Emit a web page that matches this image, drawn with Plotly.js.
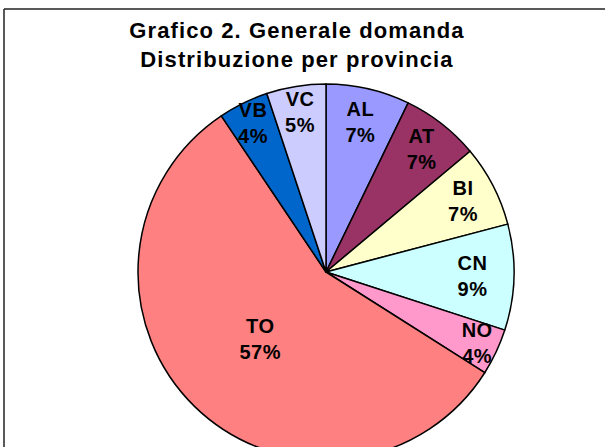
<!DOCTYPE html>
<html>
<head>
<meta charset="utf-8">
<script src="https://cdn.plot.ly/plotly-3.0.1.min.js"></script>
<style>
html, body { margin: 0; padding: 0; overflow: hidden; background: #fff; }
#chart { width: 605px; height: 480px; }
#chart .gtitle { letter-spacing: 1.1px; }
#chart .slicetext { letter-spacing: 0.5px; }
</style>
</head>
<body>
<div id="chart"></div>
<script>
const provinces = ['AL', 'AT', 'BI', 'CN', 'NO', 'TO', 'VB', 'VC'];
const shares = [7.2, 6.7, 7.0, 9.1, 4.0, 56.6, 4.3, 5.1];
const sliceColors = ['#9999FF', '#993366', '#FFFFCC', '#CCFFFF', '#FF99CC', '#FF8080', '#0066CC', '#CCCCFF'];
const chartTitle = 'Grafico 2. Generale domanda<br>Distribuzione per provincia';

const W = 605, H = 480;
const cx = 326, cy = 272, r = 188;

const trace = {
  type: 'pie',
  labels: provinces,
  values: shares,
  sort: false,
  direction: 'clockwise',
  rotation: 0,
  marker: { colors: sliceColors, line: { color: '#000', width: 1.5 } },
  texttemplate: '%{label}<br>%{percent:.0%}',
  textposition: 'inside',
  insidetextorientation: 'horizontal',
  textfont: { family: 'Liberation Sans, Arial, sans-serif', size: 20, color: '#000', weight: 'bold' },
  hoverinfo: 'none',
  showlegend: false,
  domain: { x: [(cx - r) / W, (cx + r) / W], y: [(H - cy - r) / H, (H - cy + r) / H] }
};

const layout = {
  width: W, height: H,
  margin: { l: 0, r: 0, t: 0, b: 0 },
  paper_bgcolor: '#fff',
  title: {
    text: chartTitle,
    font: { family: 'Liberation Sans, Arial, sans-serif', size: 22, color: '#000', weight: 'bold' },
    x: 297 / W, xanchor: 'center',
    y: 1 - 38 / H, yanchor: 'top', yref: 'container'
  },
  uniformtext: { mode: 'show', minsize: 20 },
  shapes: [
    { type: 'line', xref: 'paper', yref: 'paper', x0: 4 / W, x1: 1, y0: 1 - 9 / H, y1: 1 - 9 / H, line: { color: '#222', width: 1.5 } },
    { type: 'line', xref: 'paper', yref: 'paper', x0: 4 / W, x1: 4 / W, y0: 1 - 9 / H, y1: 0, line: { color: '#222', width: 1.5 } }
  ]
};

Plotly.newPlot('chart', [trace], layout, { displayModeBar: false, staticPlot: true });
</script>
</body>
</html>
